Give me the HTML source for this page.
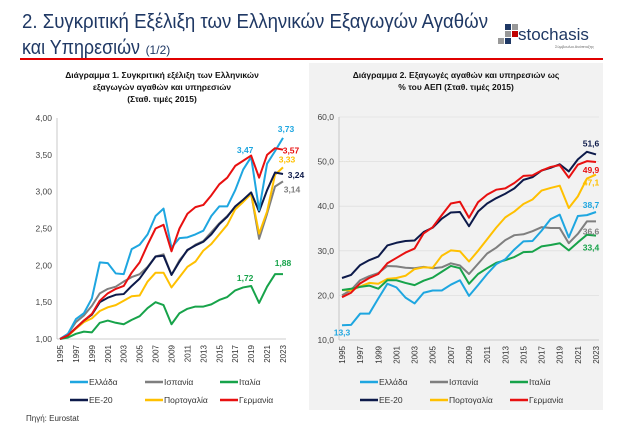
<!DOCTYPE html>
<html><head><meta charset="utf-8"><style>
body{margin:0;background:#fff;}
svg{display:block;font-family:"Liberation Sans",sans-serif;}
</style></head><body>
<svg id="root" width="624" height="425" viewBox="0 0 624 425" xmlns="http://www.w3.org/2000/svg">
<text x="22" y="28" font-size="20" fill="#1f3864" textLength="466" lengthAdjust="spacingAndGlyphs">2. Συγκριτική Εξέλιξη των Ελληνικών Εξαγωγών Αγαθών</text>
<text x="22" y="54" font-size="20" fill="#1f3864"><tspan textLength="118" lengthAdjust="spacingAndGlyphs">και Υπηρεσιών</tspan> <tspan font-size="12">(1/2)</tspan></text>
<g>
<rect x="505" y="24" width="6" height="6" fill="#1f3864"/><rect x="512" y="24" width="6" height="6" fill="#999"/>
<rect x="505" y="31" width="6" height="6" fill="#999"/><rect x="512" y="31" width="6" height="6" fill="#c00000"/>
<rect x="498" y="38" width="6" height="6" fill="#999"/><rect x="505" y="38" width="6" height="6" fill="#1f3864"/>
<text x="518" y="40" font-size="17" fill="#1f3864">stochasis</text>
<text x="555" y="48" font-size="4" fill="#666">Σύμβουλοι Ανάπτυξης</text>
</g>
<line x1="20" y1="59" x2="603" y2="59" stroke="#e00000" stroke-width="2"/>
<rect x="309" y="63" width="294" height="347" fill="#f2f2f2"/>
<g font-size="8.5" font-weight="bold" fill="#111" text-anchor="middle">
<text x="162" y="78">Διάγραμμα 1. Συγκριτική εξέλιξη των Ελληνικών</text>
<text x="162" y="90">εξαγωγών αγαθών και υπηρεσιών</text>
<text x="162" y="102">(Σταθ. τιμές 2015)</text>
<text x="456" y="78">Διάγραμμα 2. Εξαγωγές αγαθών και υπηρεσιών ως</text>
<text x="456" y="90">% του ΑΕΠ (Σταθ. τιμές 2015)</text>
</g>
<g id="c1"></g><g id="c2"></g>
<text x="26" y="421" font-size="8" fill="#333">Πηγή: Eurostat</text>
</svg>
<script>
const years=[1995,1996,1997,1998,1999,2000,2001,2002,2003,2004,2005,2006,2007,2008,2009,2010,2011,2012,2013,2014,2015,2016,2017,2018,2019,2020,2021,2022,2023];
const seriesNames=["Ελλάδα","Ισπανία","Ιταλία","ΕΕ-20","Πορτογαλία","Γερμανία"];
const seriesColors=["#1ea6e0","#7f7f7f","#17a34a","#0d1a4a","#ffc000","#e81010"];
// Chart 1 index values
const c1Greece=[1.00,1.07,1.27,1.35,1.55,2.04,2.03,1.89,1.88,2.22,2.28,2.42,2.67,2.77,2.24,2.37,2.38,2.42,2.47,2.67,2.80,2.80,3.02,3.30,3.47,2.75,3.38,3.55,3.73];
const c1Spain=[1.00,1.07,1.23,1.32,1.45,1.62,1.68,1.71,1.78,1.84,1.88,1.98,2.12,2.15,1.87,2.07,2.20,2.28,2.33,2.45,2.57,2.67,2.79,2.88,2.97,2.36,2.70,3.07,3.14];
const c1Italy=[1.00,1.02,1.07,1.10,1.09,1.22,1.25,1.22,1.20,1.26,1.31,1.42,1.50,1.46,1.20,1.35,1.41,1.44,1.44,1.47,1.53,1.57,1.66,1.70,1.72,1.49,1.71,1.88,1.88];
const c1EU=[1.00,1.05,1.15,1.25,1.33,1.50,1.56,1.60,1.61,1.72,1.82,1.97,2.12,2.13,1.87,2.05,2.21,2.27,2.32,2.42,2.56,2.66,2.80,2.89,2.99,2.73,3.02,3.26,3.24];
const c1Portugal=[1.00,1.04,1.14,1.23,1.28,1.38,1.43,1.46,1.52,1.58,1.59,1.78,1.90,1.90,1.70,1.84,1.98,2.05,2.20,2.29,2.42,2.55,2.76,2.86,2.97,2.43,2.73,3.23,3.33];
const c1Germany=[1.00,1.05,1.15,1.25,1.34,1.52,1.62,1.68,1.72,1.90,2.04,2.28,2.50,2.55,2.19,2.50,2.70,2.79,2.82,2.95,3.10,3.19,3.35,3.42,3.49,3.19,3.50,3.59,3.57];
const c1Ticks=[1.00,1.50,2.00,2.50,3.00,3.50,4.00];
// Chart 2 % of GDP
const c2Greece=[13.3,13.4,15.9,15.9,19.3,22.6,21.8,19.5,18.2,20.6,21.1,21.1,22.4,23.4,19.9,22.3,24.8,27.0,28.1,30.3,32.1,32.2,34.5,37.1,38.1,33.0,37.8,38.0,38.7];
const c2Spain=[20.0,21.2,23.4,24.3,25.0,26.6,26.5,26.2,26.1,26.4,26.1,26.3,27.2,26.7,24.8,27.1,29.4,30.7,32.4,33.5,33.7,34.4,35.3,35.1,35.1,31.7,33.8,36.6,36.6];
const c2Italy=[21.2,21.5,21.9,22.2,21.5,23.4,23.4,22.8,22.3,23.3,24.0,25.3,26.6,26.1,22.6,24.8,26.1,27.3,27.9,28.6,29.7,29.8,31.0,31.3,31.7,30.1,31.9,33.6,33.4];
const c2EU=[23.9,24.6,26.8,27.9,28.7,31.2,31.8,32.2,32.3,34.2,35.2,37.2,38.6,38.7,35.5,38.8,40.6,41.8,42.8,44.0,45.9,46.5,48.0,48.6,49.4,47.8,50.5,52.2,51.6];
const c2Portugal=[21.2,21.1,22.0,22.8,22.6,23.7,23.9,24.4,25.9,26.3,26.2,28.9,30.1,29.9,27.6,30.0,32.6,35.2,37.5,38.8,40.5,41.5,43.5,44.1,44.6,39.6,42.2,46.2,47.1];
const c2Germany=[19.6,20.6,22.7,23.9,24.8,27.2,28.4,29.6,30.5,33.9,35.3,38.0,40.6,41.0,37.4,40.9,42.6,43.7,44.0,45.2,46.8,46.9,48.0,48.8,49.2,46.4,49.3,50.1,49.9];
const c2Ticks=[10,20,30,40,50,60];

const NS="http://www.w3.org/2000/svg";
function mk(tag,attrs,parent){const e=document.createElementNS(NS,tag);for(const k in attrs)e.setAttribute(k,attrs[k]);parent.appendChild(e);return e;}

function drawChart(g,cfg){
  const {x0,x1,yTop,yBot,vMin,vMax,ticks,fmt,data,labels,grid,legendX,name}=cfg;
  const xs=i=>x0+(x1-x0)*i/(years.length-1);
  const ys=v=>yBot-(v-vMin)/(vMax-vMin)*(yBot-yTop);
  ticks.forEach(t=>{
    if(grid&&t!==vMin){const l=mk('line',{x1:x0-3,x2:x1+3,y1:ys(t),y2:ys(t),stroke:'#e0e0e0','stroke-width':0.8},g);
    
    }
    const tx=mk('text',{x:x0-8,y:ys(t)+3,'font-size':8.5,fill:'#444','text-anchor':'end'},g);
    tx.textContent=fmt(t);
    
    
  });
  const ya=mk('line',{x1:x0-3,x2:x0-3,y1:yTop,y2:yBot,stroke:'#bbb','stroke-width':0.8},g);
  
  
  const xa=mk('line',{x1:x0-3,x2:x1+3,y1:yBot,y2:yBot,stroke:'#bbb','stroke-width':0.8},g);
  
  
  years.forEach((y,i)=>{if(i%2)return;
    const tx=mk('text',{x:0,y:0,'font-size':8,fill:'#333','text-anchor':'end',transform:`translate(${xs(i)+3},${yBot+6}) rotate(-90)`},g);
    tx.textContent=y;
    
    
  });
  const order=[1,4,2,3,0,5];
  order.forEach(s=>{
    const p=mk('polyline',{points:data[s].map((v,i)=>xs(i)+','+ys(v)).join(' '),fill:'none',stroke:seriesColors[s],'stroke-width':2,'stroke-linejoin':'round'},g);
    
    
  });
  labels.forEach(L=>{
    const v=data[L.s][L.i];
    const tx=mk('text',{x:xs(L.i)+L.dx,y:ys(v)+L.dy,'font-size':8.5,'font-weight':'bold',fill:seriesColors[L.s],'text-anchor':'middle'},g);
    tx.textContent=v.toFixed(L.d).replace('.',',');
    
    
  });
  seriesNames.forEach((n,s)=>{
    const cx=legendX[s%3], cy=s<3?382:400;
    const l=mk('line',{x1:cx,x2:cx+18,y1:cy,y2:cy,stroke:seriesColors[s],'stroke-width':2.5},g);
    
    
    const t=mk('text',{x:cx+19,y:cy+3,'font-size':8.5,fill:'#333'},g);
    t.textContent=n;
    
    
  });
}
drawChart(document.getElementById('c1'),{name:'chart1',x0:60,x1:283,yTop:118,yBot:339,vMin:1,vMax:4,ticks:c1Ticks,fmt:t=>t.toFixed(2).replace('.',','),grid:false,
  data:[c1Greece,c1Spain,c1Italy,c1EU,c1Portugal,c1Germany],legendX:[70,145,220],
  labels:[{s:0,i:28,dx:3,dy:-6,d:2},{s:5,i:28,dx:8,dy:4,d:2},{s:4,i:28,dx:4,dy:-5,d:2},{s:3,i:28,dx:13,dy:4,d:2},{s:1,i:28,dx:9,dy:11,d:2},{s:0,i:24,dx:-6,dy:-4,d:2},{s:2,i:24,dx:-6,dy:-5,d:2},{s:2,i:28,dx:0,dy:-8,d:2}]});
drawChart(document.getElementById('c2'),{name:'chart2',x0:342,x1:596,yTop:117,yBot:340,vMin:10,vMax:60,ticks:c2Ticks,fmt:t=>t.toFixed(1).replace('.',','),grid:true,
  data:[c2Greece,c2Spain,c2Italy,c2EU,c2Portugal,c2Germany],legendX:[360,430,510],
  labels:[{s:3,i:28,dx:-5,dy:-8,d:1},{s:5,i:28,dx:-5,dy:11,d:1},{s:4,i:28,dx:-5,dy:11,d:1},{s:0,i:28,dx:-5,dy:-4,d:1},{s:1,i:28,dx:-5,dy:13,d:1},{s:2,i:28,dx:-5,dy:15,d:1},{s:0,i:0,dx:0,dy:10,d:1}]});
</script>
</body></html>
